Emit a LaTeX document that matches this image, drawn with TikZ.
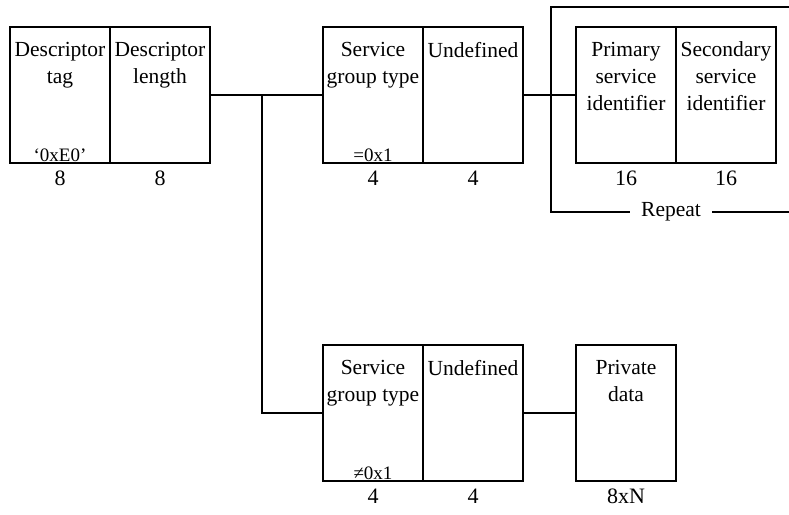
\documentclass[tikz,border=0pt]{standalone}
\usepackage{fontspec}
\setmainfont{Liberation Serif}
\usetikzlibrary{positioning}

\begin{document}
\begin{tikzpicture}[x=1pt,y=-1pt,line width=1.1pt,
   every node/.style={font=\fontsize{21.5}{27}\selectfont},
   field/.style={draw,minimum width=100pt,minimum height=136pt,inner sep=0pt},
   fname/.style={align=center,inner sep=0pt},
   fval/.style={inner sep=1pt,font=\fontsize{19}{22}\selectfont},
   bits/.style={inner sep=0pt,font=\fontsize{22}{26}\selectfont}]
  \useasboundingbox (0,0) rectangle (789,514);
  % fields
  \node[field](tag) at (60,95){};
  \node[field](len) at (160,95){};
  \node[field](sgt) at (373,95){};
  \node[field](und) at (473,95){};
  \node[field](psi) at (626,95){};
  \node[field](ssi) at (726,95){};
  \node[field](sgtb) at (373,413){};
  \node[field](undb) at (473,413){};
  \node[field](priv) at (626,413){};
  \foreach \f/\t in {tag/{Descriptor\\tag},len/{Descriptor\\length},sgt/{Service\\group type},
     und/Undefined,psi/{Primary\\service\\identifier},ssi/{Secondary\\service\\identifier},
     sgtb/{Service\\group type},undb/Undefined,priv/{Private\\data}}
    \node[fname,below=15pt of \f.north](\f-t){\t};
  \node[fval,above=0pt of tag.south](tag-v){‘0xE0’};
  \node[fval,above=0pt of sgt.south](sgt-v){=0x1};
  \node[fval,above=0pt of sgtb.south](sgtb-v){≠0x1};
  \foreach \f/\n in {tag/8,len/8,sgt/4,und/4,psi/16,ssi/16,sgtb/4,undb/4,priv/8xN}
    \node[bits,below=7pt of \f.south](\f-n){\n};
  % connectors
  \coordinate (br) at (262,95);
  \draw (len.east) -- (sgt.west);
  \draw (br) |- (sgtb.west);
  \draw (und.east) -- (psi.west);
  \draw (undb.east) -- (priv.west);
  % repeat loop
  \node[inner sep=11pt](rep) at (671,212){Repeat};
  \coordinate (rtop) at (789,7);
  \coordinate (rbot) at (789,212);
  \draw (rtop) -| (551,212) -- (rep.west);
  \draw (rep.east) -- (rbot);
\end{tikzpicture}
\end{document}
